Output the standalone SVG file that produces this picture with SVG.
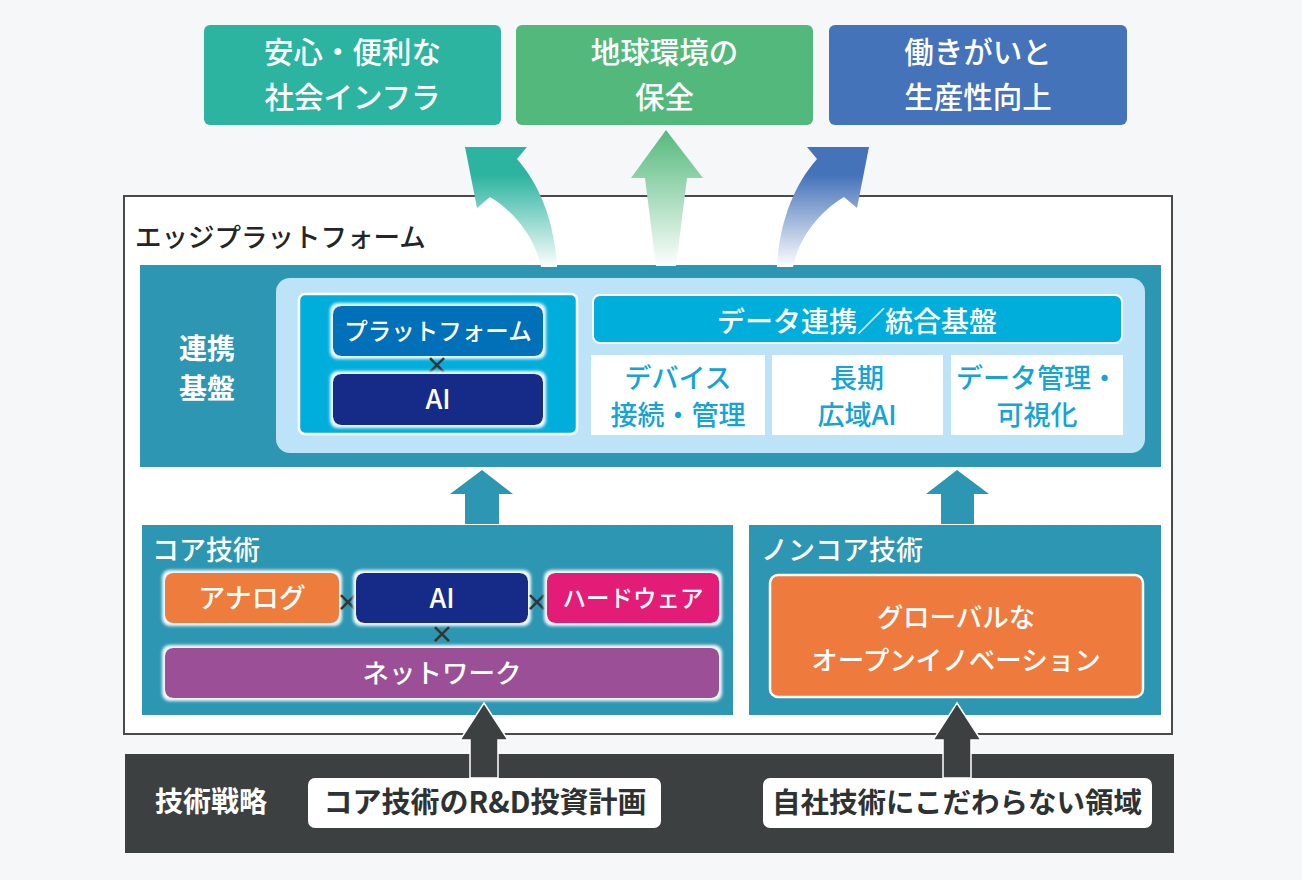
<svg xmlns="http://www.w3.org/2000/svg" width="1302" height="880" viewBox="0 0 1302 880">
<defs>
<style>
text{font-family:"Noto Sans CJK JP","Noto Sans",sans-serif;}
.w{fill:#ffffff;font-weight:500;}
.wb{fill:#ffffff;font-weight:700;}
.c{text-anchor:middle;}
.cell{fill:#16a3d5;font-weight:500;font-size:27px;text-anchor:middle;}
.x{fill:#333535;font-weight:700;font-size:24px;text-anchor:middle;}
.teal{fill:#2d96b2;}
</style>
<filter id="glow" x="-10%" y="-30%" width="120%" height="160%">
<feMorphology in="SourceAlpha" operator="dilate" radius="2.5" result="d"/>
<feGaussianBlur in="d" stdDeviation="1.6" result="b"/>
<feFlood flood-color="#ffffff" flood-opacity="0.95"/>
<feComposite in2="b" operator="in" result="g"/>
<feMerge><feMergeNode in="g"/><feMergeNode in="SourceGraphic"/></feMerge>
</filter>
<linearGradient id="gTeal" gradientUnits="userSpaceOnUse" x1="0" y1="268" x2="0" y2="175">
<stop offset="0" stop-color="#ffffff"/><stop offset="1" stop-color="#2db4a0"/>
</linearGradient>
<linearGradient id="gGreen" gradientUnits="userSpaceOnUse" x1="0" y1="268" x2="0" y2="130">
<stop offset="0" stop-color="#ffffff"/><stop offset="1" stop-color="#55b97d"/>
</linearGradient>
<linearGradient id="gBlue" gradientUnits="userSpaceOnUse" x1="0" y1="268" x2="0" y2="175">
<stop offset="0" stop-color="#ffffff"/><stop offset="1" stop-color="#4573b9"/>
</linearGradient>
</defs>

<rect x="0" y="0" width="1302" height="880" fill="#f6f7f8"/>

<g id="goal-infra">
<rect x="204" y="25" width="297" height="100" rx="6" fill="#2db4a0"/>
<text class="w c" x="352.5" y="63" font-size="29.5">安心・便利な</text>
<text class="w c" x="352.5" y="108" font-size="29.5">社会インフラ</text>
</g>
<g id="goal-environment">
<rect x="516" y="25" width="297" height="100" rx="6" fill="#53b87c"/>
<text class="w c" x="664.5" y="63" font-size="29.5">地球環境の</text>
<text class="w c" x="664.5" y="108" font-size="29.5">保全</text>
</g>
<g id="goal-productivity">
<rect x="829" y="25" width="298" height="100" rx="6" fill="#4573b9"/>
<text class="w c" x="978" y="63" font-size="29.5">働きがいと</text>
<text class="w c" x="978" y="108" font-size="29.5">生産性向上</text>
</g>

<g id="edge-platform">
<rect x="124" y="196" width="1048" height="538" fill="#ffffff" stroke="#4a4a4a" stroke-width="2"/>
<text x="135" y="247" font-size="26.5" fill="#222626" font-weight="500">エッジプラットフォーム</text>
</g>

<g id="renkei-kiban">
<rect x="140" y="265" width="1021" height="202" class="teal"/>
<text class="wb c" x="207" y="359" font-size="28">連携</text>
<text class="wb c" x="207" y="399" font-size="28">基盤</text>
<rect x="276" y="278" width="869" height="175" rx="14" fill="#bce3f7"/>
</g>

<g id="platform-ai">
<rect x="299" y="294" width="278" height="140" rx="6" fill="#00aedc" stroke="#ffffff" stroke-width="2.5"/>
<rect x="333" y="306" width="210" height="50" rx="8" fill="#0570b8" filter="url(#glow)"/>
<text class="w c" x="438" y="340" font-size="23.5">プラットフォーム</text>
<text class="x" x="437" y="374">×</text>
<rect x="333" y="374" width="210" height="51" rx="8" fill="#182a87" filter="url(#glow)"/>
<text class="w c" x="438" y="409" font-size="27">AI</text>
</g>

<g id="data-integration">
<rect x="593" y="295" width="529" height="48" rx="7" fill="#00aedc" stroke="#ffffff" stroke-width="2"/>
<text class="w c" x="857" y="332" font-size="28">データ連携／統合基盤</text>
</g>
<g id="device-mgmt">
<rect x="591" y="355" width="174" height="80" fill="#ffffff"/>
<text class="cell" x="678" y="388">デバイス</text>
<text class="cell" x="678" y="425" font-size="26.5">接続・管理</text>
</g>
<g id="long-term-ai">
<rect x="772" y="355" width="171" height="80" fill="#ffffff"/>
<text class="cell" x="857" y="388">長期</text>
<text class="cell" x="857" y="425">広域AI</text>
</g>
<g id="data-visualize">
<rect x="951" y="355" width="172" height="80" fill="#ffffff"/>
<text class="cell" x="1037" y="388" font-size="26.5">データ管理・</text>
<text class="cell" x="1037" y="425">可視化</text>
</g>

<g id="core-tech">
<rect x="142" y="525" width="591" height="190" class="teal"/>
<text class="w" x="152" y="560" font-size="27">コア技術</text>
<rect x="165" y="573" width="174" height="50" rx="8" fill="#ee7b3d" filter="url(#glow)"/>
<text class="w c" x="252" y="608" font-size="27">アナログ</text>
<text class="x" x="348" y="611">×</text>
<rect x="356" y="573" width="172" height="50" rx="8" fill="#182a87" filter="url(#glow)"/>
<text class="w c" x="442" y="608" font-size="27">AI</text>
<text class="x" x="537" y="611">×</text>
<rect x="547" y="573" width="172" height="50" rx="8" fill="#e31b78" filter="url(#glow)"/>
<text class="w c" x="633" y="607" font-size="23.5">ハードウェア</text>
<text class="x" x="442" y="643">×</text>
<rect x="165" y="648" width="554" height="50" rx="8" fill="#9a4f96" filter="url(#glow)"/>
<text class="w c" x="442" y="683" font-size="26.5">ネットワーク</text>
</g>

<g id="noncore-tech">
<rect x="749" y="525" width="412" height="190" class="teal"/>
<text class="w" x="761" y="560" font-size="27">ノンコア技術</text>
<rect x="770" y="575" width="373" height="122" rx="8" fill="#ee7b3d" stroke="#ffffff" stroke-width="2.5"/>
<text class="w c" x="956" y="627" font-size="26.5">グローバルな</text>
<text class="w c" x="956" y="670" font-size="26.5">オープンイノベーション</text>
</g>

<g id="tech-strategy">
<rect x="125" y="754" width="1049" height="99" fill="#3d4040"/>
<text class="wb" x="155" y="812" font-size="28">技術戦略</text>
</g>
<g id="rd-plan">
<rect x="308" y="778" width="353" height="50" rx="7" fill="#ffffff"/>
<text class="c" x="485" y="813" font-size="29" font-weight="700" fill="#2e3232">コア技術のR&amp;D投資計画</text>
</g>
<g id="non-own-tech">
<rect x="763" y="778" width="389" height="50" rx="7" fill="#ffffff"/>
<text class="c" x="957" y="813" font-size="28.5" font-weight="700" fill="#2e3232">自社技術にこだわらない領域</text>
</g>

<g id="connectors">
<path d="M 557 267 C 555 225 541 186 517 159 L 527 147 L 465 147 L 477 208 L 490 197 C 512 210 535 236 541 267 Z" fill="url(#gTeal)"/>
<path d="M 666 130 L 703 178 L 687 178 L 676 266 L 656 266 L 645 178 L 631 178 Z" fill="url(#gGreen)"/>
<path d="M 777 267 C 779 225 793 186 817 159 L 807 147 L 869 147 L 857 208 L 844 197 C 822 210 799 236 793 267 Z" fill="url(#gBlue)"/>
<path d="M 482 470 L 513 494 L 499 494 L 499 524 L 465 524 L 465 494 L 450 494 Z" class="teal"/>
<path d="M 957 470 L 989 494 L 974 494 L 974 524 L 941 524 L 941 494 L 926 494 Z" class="teal"/>
<path d="M 484 703 L 508 740 L 498 740 L 498 778 L 470 778 L 470 740 L 460 740 Z" fill="#3d4040" stroke="#ffffff" stroke-width="1.5"/>
<path d="M 957 703 L 981 740 L 971 740 L 971 778 L 943 778 L 943 740 L 933 740 Z" fill="#3d4040" stroke="#ffffff" stroke-width="1.5"/>
</g>
</svg>
